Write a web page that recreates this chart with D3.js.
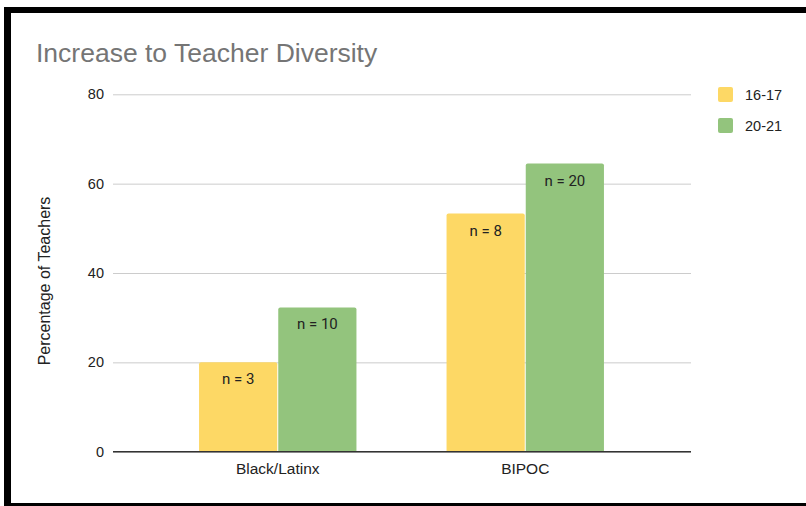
<!DOCTYPE html>
<html>
<head>
<meta charset="utf-8">
<script src="https://cdn.jsdelivr.net/npm/d3@7"></script>
<style>
  html, body { margin: 0; padding: 0; background: #fff; }
  svg { display: block; font-family: Arial, "Liberation Sans", sans-serif; }
</style>
</head>
<body>
<div id="w"></div>
<script>
// data
var categories = ["Black/Latinx", "BIPOC"]
var seriesNames = ["16-17", "20-21"]
var values1617 = [20, 53.3]
var values2021 = [32.3, 64.5]
var labels1617 = ["n = 3", "n = 8"]
var labels2021 = ["n = 10", "n = 20"]
var yTicks = [0, 20, 40, 60, 80]
var colors = ["#fdd865", "#93c47d"]

var W = 806, H = 506
var svg = d3.select("#w").append("svg")
  .attr("width", W)
  .attr("height", H)

// black frame (left, top, bottom)
svg.append("rect").attr("x", 0).attr("y", 0).attr("width", W).attr("height", H).attr("fill", "#fff")
svg.append("rect").attr("x", 4).attr("y", 7).attr("width", W - 4).attr("height", 6).attr("fill", "#000")
svg.append("rect").attr("x", 4).attr("y", 7).attr("width", 7).attr("height", H - 7).attr("fill", "#000")
svg.append("rect").attr("x", 4).attr("y", 503).attr("width", W - 4).attr("height", 3).attr("fill", "#000")

var y = d3.scaleLinear().domain([0, 80]).range([451.7, 94.3])
var x0 = d3.scaleBand().domain(categories).range([154, 649]).paddingInner(0.36).paddingOuter(0.18)
var x1 = d3.scaleBand().domain(seriesNames).range([0, x0.bandwidth()]).padding(0)

// gridlines + tick labels
var yAxis = d3.axisLeft(y).tickValues(yTicks).tickSize(-(691 - 113)).tickPadding(9)
var gy = svg.append("g").attr("transform", "translate(113,0)").call(yAxis)
gy.select(".domain").remove()
gy.selectAll(".tick line").attr("stroke", "#cccccc").attr("stroke-width", 1)
gy.selectAll(".tick text").attr("fill", "#222").style("font-size", "14.5px")

// bars
var rows = categories.map(function(c, i) {
  return [
    { cat: c, s: seriesNames[0], v: values1617[i], lab: labels1617[i], col: colors[0] },
    { cat: c, s: seriesNames[1], v: values2021[i], lab: labels2021[i], col: colors[1] }
  ]
})
var groups = svg.selectAll(".grp").data(rows).enter().append("g")
  .attr("class", "grp")
  .attr("transform", function(d) { return "translate(" + x0(d[0].cat) + ",0)" })

groups.selectAll("path").data(function(d) { return d }).enter().append("path")
  .attr("fill", function(d) { return d.col })
  .attr("d", function(d) {
    var bx = x1(d.s) + 0.5, bw = x1.bandwidth() - 1, top = y(d.v), bot = y(0), r = 2
    return "M" + bx + "," + bot + "V" + (top + r) + "Q" + bx + "," + top + " " + (bx + r) + "," + top +
      "H" + (bx + bw - r) + "Q" + (bx + bw) + "," + top + " " + (bx + bw) + "," + (top + r) + "V" + bot + "Z"
  })

groups.selectAll("text").data(function(d) { return d }).enter().append("text")
  .attr("x", function(d) { return x1(d.s) + x1.bandwidth() / 2 })
  .attr("y", function(d) { return y(d.v) + 22 })
  .attr("text-anchor", "middle")
  .attr("fill", "#222")
  .style("font-family", "Roboto, Arial, sans-serif")
  .style("font-size", "15px")
  .text(function(d) { return d.lab })

// baseline
svg.append("line").attr("x1", 113).attr("x2", 691).attr("y1", y(0)).attr("y2", y(0))
  .attr("stroke", "#333").attr("stroke-width", 1.5)

// x labels
svg.selectAll(".xl").data(categories).enter().append("text")
  .attr("class", "xl")
  .attr("x", function(d) { return x0(d) + x0.bandwidth() / 2 })
  .attr("y", 474)
  .attr("text-anchor", "middle")
  .attr("fill", "#222")
  .style("font-size", "15.5px")
  .text(function(d) { return d })

// title
svg.append("text").attr("x", 36).attr("y", 62)
  .attr("fill", "#757575").style("font-size", "26.5px")
  .text("Increase to Teacher Diversity")

// y axis title
svg.append("text")
  .attr("transform", "translate(50,281) rotate(-90)")
  .attr("text-anchor", "middle")
  .attr("fill", "#222").style("font-size", "16px")
  .text("Percentage of Teachers")

// legend
var leg = svg.selectAll(".leg").data(seriesNames).enter().append("g")
  .attr("class", "leg")
  .attr("transform", function(d, i) { return "translate(718," + (87 + i * 31) + ")" })
leg.append("rect").attr("width", 15).attr("height", 15).attr("rx", 2)
  .attr("fill", function(d, i) { return colors[i] })
leg.append("text").attr("x", 27).attr("y", 12.5)
  .attr("fill", "#222").style("font-size", "14.5px")
  .text(function(d) { return d })
</script>
</body>
</html>
